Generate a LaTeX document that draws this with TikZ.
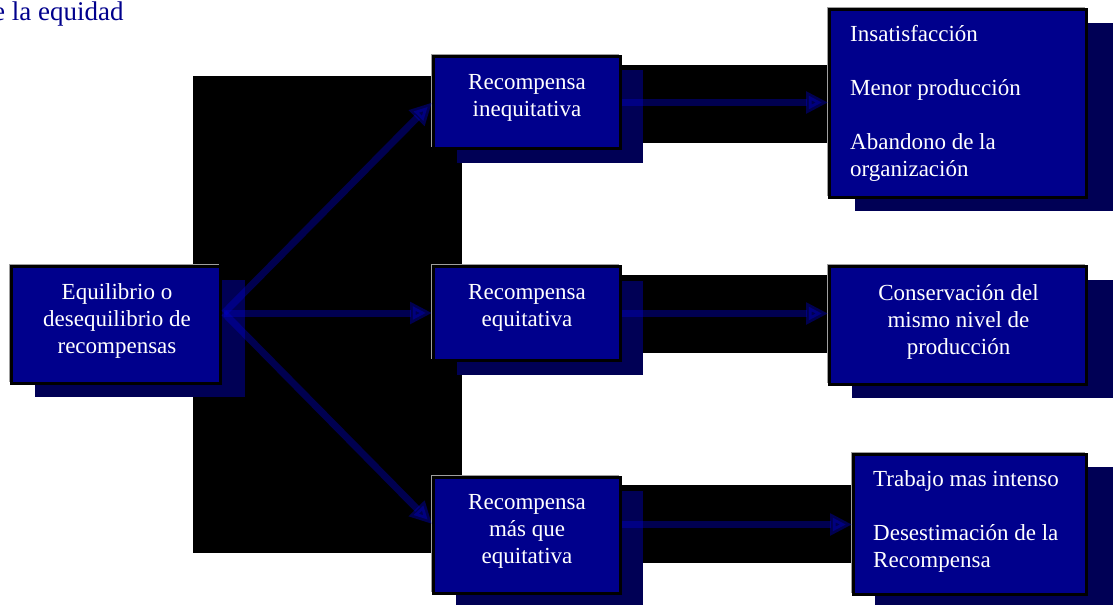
\documentclass[tikz,border=0pt]{standalone}
\usepackage{fontspec}
\setmainfont{Liberation Serif}
\usetikzlibrary{arrows.meta,calc}
\definecolor{boxblue}{RGB}{0,0,140}
\definecolor{shadowblue}{RGB}{0,0,85}
\definecolor{arrowblue}{RGB}{0,0,200}
\definecolor{titleblue}{RGB}{0,0,140}
\begin{document}
\begin{tikzpicture}[x=1pt,y=-1pt,
  box/.style={rectangle, fill=boxblue, draw=black, line width=3pt, inner sep=0pt,
    preaction={draw=gray!75, line width=1pt, transform canvas={shift={(-2pt,2pt)}}}},
  txt/.style={text=white, font=\fontsize{23}{27}\selectfont, align=center, inner sep=0pt},
  shadowbox/.style={fill=shadowblue},
  backbox/.style={fill=black},
  arr/.style={draw=arrowblue, opacity=0.4, line width=7pt, -{Triangle[length=22pt,width=21pt]}}]
\useasboundingbox (0,0) rectangle (1113,605);
% black backgrounds
\fill[backbox] (193,76) rectangle (462,553);
\fill[backbox] (620,65) rectangle (830,143);
\fill[backbox] (620,275) rectangle (830,353);
\fill[backbox] (620,485) rectangle (855,563);
% shadows
\fill[shadowbox] (35,280) rectangle (245,397);
\fill[shadowbox] (457,70) rectangle (643,163);
\fill[shadowbox] (457,281) rectangle (643,375);
\fill[shadowbox] (456,491) rectangle (643,605);
\fill[shadowbox] (855,23) rectangle (1113,211);
\fill[shadowbox] (852,280) rectangle (1113,398);
\fill[shadowbox] (875,467) rectangle (1113,605);
% boxes
\node[box, minimum width=209pt, minimum height=117pt] (L) at (116,325) {};
\node[box, minimum width=187pt, minimum height=92pt] (M1) at (527,102.5) {};
\node[box, minimum width=187pt, minimum height=94pt] (M2) at (527,313.5) {};
\node[box, minimum width=187pt, minimum height=116pt] (M3) at (527,535.5) {};
\node[box, minimum width=257pt, minimum height=188pt] (R1) at (958,103.5) {};
\node[box, minimum width=257pt, minimum height=118pt] (R2) at (958,325.5) {};
\node[box, minimum width=233pt, minimum height=140pt] (R3) at (970,524.5) {};
% arrows
\coordinate (ls) at (224,313);
\draw[arr] (ls) -- (M1.west);
\draw[arr] (ls) -- (ls -| M2.west);
\draw[arr] (ls) -- ($(M3.west)+(0,-11.5)$);
\draw[arr] (M1.east) -- (R1.west |- M1.east);
\draw[arr] (M2.east) -- (M2.east -| R2.west);
\draw[arr] (M3.east |- R3.west) -- (R3.west);
% texts
\node[anchor=base west, text=titleblue, font=\fontsize{27}{30}\selectfont, inner sep=0pt] (title) at (-7,20) {e la equidad};
\node[txt] (Lt) at (117,321) {Equilibrio o\\desequilibrio de\\recompensas};
\node[txt] (M1t) at (527,97.5) {Recompensa\\inequitativa};
\node[txt] (M2t) at (527,308) {Recompensa\\equitativa};
\node[txt] (M3t) at (527,531) {Recompensa\\más que\\equitativa};
\node[txt, align=left, anchor=west] (R1t) at (850,103.5) {Insatisfacción\\[27pt]Menor producción\\[27pt]Abandono de la\\organización};
\node[txt] (R2t) at (958.5,322) {Conservación del\\mismo nivel de\\producción};
\node[txt, align=left, anchor=west] (R3t) at (873,521.5) {Trabajo mas intenso\\[27pt]Desestimación de la\\Recompensa};
\end{tikzpicture}
\end{document}
